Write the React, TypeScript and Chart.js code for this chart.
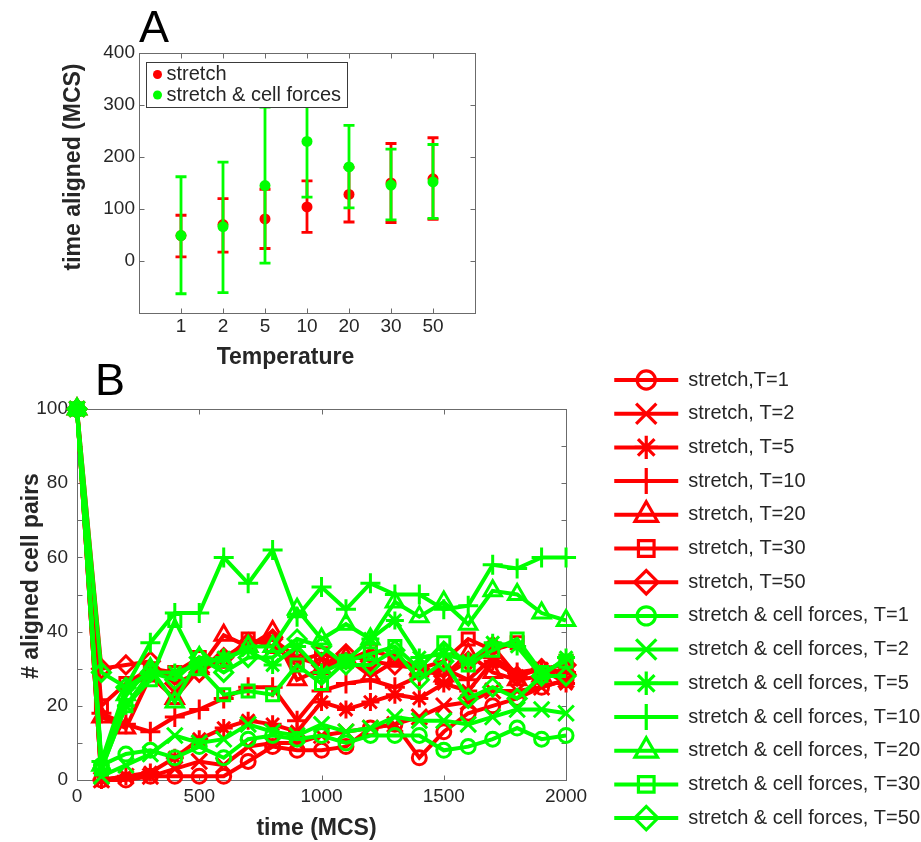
import React, { useEffect, useRef } from 'react';
import { Chart, registerables } from 'chart.js';
import { drawPoint } from 'chart.js/helpers';

Chart.register(...registerables);

const FONT = "'Liberation Sans', Arial, Helvetica, sans-serif";
const RED = '#ff0000';
const GREEN = '#00ff00';
const TEXT = '#262626';
const FRAME = '#6b6b6b';

// ---------- Panel A data ----------
const temperatureLabels = ['1', '2', '5', '10', '20', '30', '50'];
const stretchMean = [49, 70, 81, 104, 128, 150, 158];
const stretchLow = [8, 17, 24, 55, 75, 74, 80];
const stretchHigh = [88, 120, 138, 154, 180, 226, 237];
const forcesMean = [49, 66, 145, 230, 181, 146, 152];
const forcesLow = [-63, -61, -4, 123, 102, 79, 82];
const forcesHigh = [162, 190, 296, 337, 261, 215, 224];

// ---------- Panel B data ----------
const timeMCS = [0, 100, 200, 300, 400, 500, 600, 700, 800, 900, 1000, 1100, 1200, 1300, 1400, 1500, 1600, 1700, 1800, 1900, 2000];

const stretchT1 = [100, 0, 0, 1, 1, 1, 1, 5, 9, 8, 8, 9, 14, 15, 6, 13, 18, 20, 22, 25, 27];
const stretchT2 = [100, 0, 1, 1, 3, 5, 4, 9, 10, 10, 12, 13, 14, 15, 17, 20, 21, 24, 24, 25, 27];
const stretchT5 = [100, 0, 1, 2, 6, 11, 14, 16, 15, 13, 21, 19, 21, 23, 22, 26, 24, 32, 28, 30, 26];
const stretchT10 = [100, 18, 15, 13, 17, 19, 22, 25, 25, 16, 24, 26, 27, 25, 28, 30, 27, 33, 29, 30, 29];
const stretchT20 = [100, 17, 14, 28, 22, 30, 39, 36, 40, 27, 30, 33, 28, 32, 30, 28, 34, 29, 27, 28, 30];
const stretchT30 = [100, 20, 26, 30, 29, 33, 32, 38, 36, 32, 34, 32, 35, 33, 30, 32, 38, 35, 37, 29, 32];
const stretchT50 = [100, 30, 31, 32, 26, 29, 33, 37, 38, 33, 31, 34, 32, 31, 30, 28, 32, 36, 28, 30, 31];

const forcesT1 = [100, 4, 7, 8, 6, 9, 6, 11, 12, 11, 12, 10, 12, 12, 12, 8, 9, 11, 14, 11, 12];
const forcesT2 = [100, 1, 4, 7, 12, 10, 11, 15, 13, 12, 15, 13, 14, 17, 16, 16, 15, 17, 19, 19, 18];
const forcesT5 = [100, 3, 20, 29, 29, 31, 33, 35, 31, 36, 29, 32, 38, 43, 33, 34, 32, 37, 36, 28, 33];
const forcesT10 = [100, 5, 25, 37, 45, 45, 60, 53, 62, 44, 52, 46, 53, 50, 50, 46, 47, 58, 57, 60, 60];
const forcesT20 = [100, 4, 23, 30, 21, 33, 32, 36, 36, 46, 38, 42, 38, 48, 44, 48, 42, 51, 50, 45, 43];
const forcesT30 = [100, 3, 20, 27, 43, 30, 23, 24, 23, 31, 26, 32, 34, 36, 30, 37, 31, 35, 38, 29, 32];
const forcesT50 = [100, 29, 25, 29, 27, 33, 29, 33, 33, 38, 36, 31, 31, 35, 27, 32, 22, 25, 22, 28, 28];

const stretchLabels = ['stretch,T=1', 'stretch, T=2', 'stretch, T=5', 'stretch, T=10', 'stretch, T=20', 'stretch, T=30', 'stretch, T=50'];
const forcesLabels = ['stretch & cell forces, T=1', 'stretch & cell forces, T=2', 'stretch & cell forces, T=5', 'stretch & cell forces, T=10', 'stretch & cell forces, T=20', 'stretch & cell forces, T=30', 'stretch & cell forces, T=50'];

// marker styles (per temperature)
const markerStyles = ['circle', 'crossRot', 'star', 'cross', 'triangle', 'rect', 'rectRot'];
const markerRadius = [7, 11, 9, 10, 10, 8.5, 9];

// ---------- plugins ----------
function framePlugin(xFilter: (v: number) => boolean, tickLen: number) {
  return {
    id: 'frame',
    beforeDatasetsDraw(chart: any) {
      const { ctx, chartArea: ca, scales } = chart;
      const xs = scales.x, ys = scales.y;
      const L = Math.round(ca.left) + 0.5, R = Math.round(ca.right) + 0.5;
      const T = Math.round(ca.top) + 0.5, B = Math.round(ca.bottom) + 0.5;
      ctx.save();
      ctx.strokeStyle = FRAME;
      ctx.lineWidth = 1;
      ctx.strokeRect(L, T, R - L, B - T);
      ctx.beginPath();
      xs.ticks.forEach((t: any) => {
        if (!xFilter(t.value)) return;
        const px = Math.round(xs.getPixelForValue(t.value)) + 0.5;
        ctx.moveTo(px, B); ctx.lineTo(px, B - tickLen);
        ctx.moveTo(px, T); ctx.lineTo(px, T + tickLen);
      });
      ys.ticks.forEach((t: any) => {
        const py = Math.round(ys.getPixelForValue(t.value)) + 0.5;
        ctx.moveTo(L, py); ctx.lineTo(L + tickLen, py);
        ctx.moveTo(R, py); ctx.lineTo(R - tickLen, py);
      });
      ctx.stroke();
      ctx.restore();
    },
  };
}

type TitleSpec = { text: string; dx: number; dy: number; rotate: boolean; ref: 'bl' | 'tl' };
function titlesPlugin(titles: TitleSpec[]) {
  return {
    id: 'titles',
    afterDraw(chart: any) {
      const { ctx, chartArea: ca } = chart;
      ctx.save();
      ctx.fillStyle = TEXT;
      ctx.font = `bold 23px ${FONT}`;
      ctx.textAlign = 'center';
      ctx.textBaseline = 'alphabetic';
      titles.forEach((t) => {
        const x = ca.left + t.dx;
        const y = (t.ref === 'bl' ? ca.bottom : ca.top) + t.dy;
        ctx.save();
        ctx.translate(x, y);
        if (t.rotate) ctx.rotate(-Math.PI / 2);
        ctx.fillText(t.text, 0, 0);
        ctx.restore();
      });
      ctx.restore();
    },
  };
}

const errorBarPlugin = {
  id: 'errorBars',
  beforeDatasetDraw(chart: any, args: any) {
    const ds = chart.data.datasets[args.index];
    if (!ds.errLow) return;
    const { ctx, scales } = chart;
    const xs = scales.x, ys = scales.y;
    ctx.save();
    ctx.strokeStyle = ds.borderColor;
    ctx.lineWidth = 2.8;
    ds.data.forEach((p: any, i: number) => {
      const x = xs.getPixelForValue(p.x);
      const yl = ys.getPixelForValue(ds.errLow[i]);
      const yh = ys.getPixelForValue(ds.errHigh[i]);
      ctx.beginPath();
      ctx.moveTo(x, yl); ctx.lineTo(x, yh);
      ctx.moveTo(x - 5.5, yl); ctx.lineTo(x + 5.5, yl);
      ctx.moveTo(x - 5.5, yh); ctx.lineTo(x + 5.5, yh);
      ctx.stroke();
    });
    ctx.restore();
  },
};

const legendAPlugin = {
  id: 'legendA',
  afterDraw(chart: any) {
    const { ctx, chartArea: ca } = chart;
    const bx = Math.round(ca.left) + 7.5, by = Math.round(ca.top) + 9.5;
    ctx.save();
    ctx.font = `20px ${FONT}`;
    const labels = chart.data.datasets.map((d: any) => d.label);
    const tw = Math.max(...labels.map((l: string) => ctx.measureText(l).width));
    const w = Math.round(20 + tw + 6), h = 45;
    ctx.fillStyle = '#ffffff';
    ctx.fillRect(bx, by, w, h);
    ctx.strokeStyle = '#3a3a3a';
    ctx.lineWidth = 1;
    ctx.strokeRect(bx, by, w, h);
    ctx.textBaseline = 'middle';
    ctx.textAlign = 'left';
    chart.data.datasets.forEach((d: any, k: number) => {
      const y = by + 12 + k * 20.5;
      ctx.fillStyle = d.backgroundColor;
      ctx.beginPath();
      ctx.arc(bx + 11, y, 4.5, 0, Math.PI * 2);
      ctx.fill();
      ctx.fillStyle = TEXT;
      ctx.fillText(d.label, bx + 20, y);
    });
    ctx.restore();
  },
};

const legendMarkerPlugin = {
  id: 'legendMarkers',
  afterDraw(chart: any) {
    const lg = chart.legend;
    if (!lg || !lg.legendHitBoxes || !lg.legendItems) return;
    const ctx = chart.ctx;
    lg.legendItems.forEach((item: any, i: number) => {
      const hb = lg.legendHitBoxes[i];
      const ds = chart.data.datasets[item.datasetIndex];
      ctx.save();
      ctx.strokeStyle = ds.borderColor;
      ctx.fillStyle = 'rgba(0,0,0,0)';
      ctx.lineWidth = 3.2;
      drawPoint(ctx, { pointStyle: ds.pointStyle, radius: ds.pointRadius * 1.3, borderWidth: 3.2, rotation: 0 } as any, hb.left + 32, hb.top + 10);
      ctx.restore();
    });
  },
};

function makeSeries(label: string, values: number[], color: string, k: number) {
  return {
    label,
    data: timeMCS.map((t, j) => ({ x: t, y: values[j] })),
    borderColor: color,
    backgroundColor: color,
    borderWidth: 4,
    pointStyle: markerStyles[k],
    pointRadius: markerRadius[k],
    pointBorderWidth: 3,
    pointBorderColor: color,
    pointBackgroundColor: 'rgba(0,0,0,0)',
    tension: 0,
    clip: false,
  };
}

const plainNumber = (v: any) => String(v);

function PanelA() {
  const ref = useRef<HTMLCanvasElement>(null);
  useEffect(() => {
    const chart = new Chart(ref.current as HTMLCanvasElement, {
      type: 'scatter',
      data: {
        datasets: [
          {
            label: 'stretch',
            data: stretchMean.map((m, i) => ({ x: i + 1, y: m })),
            errLow: stretchLow,
            errHigh: stretchHigh,
            backgroundColor: RED,
            borderColor: RED,
            pointRadius: 5.5,
            borderWidth: 0,
            order: 1,
          } as any,
          {
            label: 'stretch & cell forces',
            data: forcesMean.map((m, i) => ({ x: i + 1, y: m })),
            errLow: forcesLow,
            errHigh: forcesHigh,
            backgroundColor: GREEN,
            borderColor: GREEN,
            pointRadius: 5.5,
            borderWidth: 0,
            order: 0,
          } as any,
        ],
      },
      options: {
        animation: false,
        responsive: false,
        devicePixelRatio: 1,
        events: [],
        layout: { padding: { top: 53, right: 25, left: 0, bottom: 0 } },
        plugins: { legend: { display: false }, tooltip: { enabled: false } },
        scales: {
          x: {
            type: 'linear', min: 0, max: 8,
            grid: { display: false, drawTicks: false }, border: { display: false },
            ticks: {
              stepSize: 1, autoSkip: false, maxRotation: 0, padding: 2, color: TEXT,
              font: { family: FONT, size: 19 },
              callback: (v: any) => (v >= 1 && v <= 7 ? temperatureLabels[v - 1] : ''),
            },
            afterFit: (s: any) => { s.height = 57; },
          },
          y: {
            type: 'linear', min: -100, max: 400,
            grid: { display: false, drawTicks: false }, border: { display: false },
            ticks: {
              stepSize: 100, padding: 4, color: TEXT,
              font: { family: FONT, size: 19 },
              callback: (v: any) => (v < 0 ? '' : String(v)),
            },
            afterFit: (s: any) => { s.width = 139; },
          },
        },
      } as any,
      plugins: [
        framePlugin((v) => v > 0 && v < 8, 5),
        errorBarPlugin,
        legendAPlugin,
        titlesPlugin([
          { text: 'Temperature', dx: 146.5, dy: 51, rotate: false, ref: 'bl' },
          { text: 'time aligned (MCS)', dx: -59, dy: 114, rotate: true, ref: 'tl' },
        ]),
      ],
    });
    return () => chart.destroy();
  }, []);
  return <canvas ref={ref} width={500} height={370} style={{ position: 'absolute', left: 0, top: 0 }} />;
}

function PanelB() {
  const ref = useRef<HTMLCanvasElement>(null);
  useEffect(() => {
    const stretchSeries = [stretchT1, stretchT2, stretchT5, stretchT10, stretchT20, stretchT30, stretchT50];
    const forcesSeries = [forcesT1, forcesT2, forcesT5, forcesT10, forcesT20, forcesT30, forcesT50];
    const all = [
      ...stretchSeries.map((v, k) => makeSeries(stretchLabels[k], v, RED, k)),
      ...forcesSeries.map((v, k) => makeSeries(forcesLabels[k], v, GREEN, k)),
    ];
    const datasets = all.map((d, i) => ({ ...d, order: all.length - 1 - i }));
    const chart = new Chart(ref.current as HTMLCanvasElement, {
      type: 'line',
      data: { datasets },
      options: {
        animation: false,
        responsive: false,
        devicePixelRatio: 1,
        events: [],
        layout: { padding: { top: 16.3, right: 0, left: 0, bottom: 0 } },
        plugins: {
          tooltip: { enabled: false },
          legend: {
            display: true,
            position: 'right',
            align: 'start',
            maxWidth: 360,
            labels: {
              font: { family: FONT, size: 20 },
              color: TEXT,
              padding: 13.7,
              usePointStyle: true,
              pointStyleWidth: 64,
              generateLabels: (c: any) =>
                c.data.datasets.map((ds: any, i: number) => ({
                  text: ds.label,
                  fillStyle: 'rgba(0,0,0,0)',
                  strokeStyle: ds.borderColor,
                  lineWidth: 4,
                  pointStyle: 'line',
                  hidden: false,
                  datasetIndex: i,
                  fontColor: TEXT,
                })),
              sort: (a: any, b: any) => a.datasetIndex - b.datasetIndex,
            },
          },
        },
        scales: {
          x: {
            type: 'linear', position: 'bottom', min: 0, max: 2000,
            grid: { display: false, drawTicks: false }, border: { display: false },
            ticks: { stepSize: 500, maxRotation: 0, padding: 5, color: TEXT, font: { family: FONT, size: 19 }, callback: plainNumber },
            afterFit: (s: any) => { s.height = 80; },
          },
          y: {
            type: 'linear', position: 'left', min: 0, max: 100,
            grid: { display: false, drawTicks: false }, border: { display: false },
            ticks: {
              stepSize: 10, padding: 9, color: TEXT, font: { family: FONT, size: 19 },
              callback: (v: any) => (v % 20 === 0 ? String(v) : ''),
            },
            afterFit: (s: any) => { s.width = 77; },
          },
          x2: {
            type: 'linear', position: 'top', axis: 'x',
            grid: { display: false, drawTicks: false }, border: { display: false }, ticks: { display: false },
            afterFit: (s: any) => { s.height = 52.7; },
          },
          y2: {
            type: 'linear', position: 'right', axis: 'y',
            grid: { display: false, drawTicks: false }, border: { display: false }, ticks: { display: false },
            afterFit: (s: any) => { s.width = 34.5; },
          },
        },
      } as any,
      plugins: [
        framePlugin(() => true, 5),
        legendMarkerPlugin,
        titlesPlugin([
          { text: 'time (MCS)', dx: 239.5, dy: 54.5, rotate: false, ref: 'bl' },
          { text: '# aligned cell pairs', dx: -39, dy: 167, rotate: true, ref: 'tl' },
        ]),
      ],
    });
    return () => chart.destroy();
  }, []);
  return <canvas ref={ref} width={930} height={520} style={{ position: 'absolute', left: 0, top: 340 }} />;
}

export default function App() {
  const letter: React.CSSProperties = {
    position: 'absolute',
    fontFamily: FONT,
    fontSize: 45,
    lineHeight: 1,
    color: '#000',
  };
  return (
    <div style={{ position: 'absolute', left: 0, top: 0, width: 921, height: 842, overflow: 'hidden', background: '#fff' }}>
      <PanelA />
      <PanelB />
      <div style={{ ...letter, left: 139, top: 4 }}>A</div>
      <div style={{ ...letter, left: 95, top: 357 }}>B</div>
    </div>
  );
}
